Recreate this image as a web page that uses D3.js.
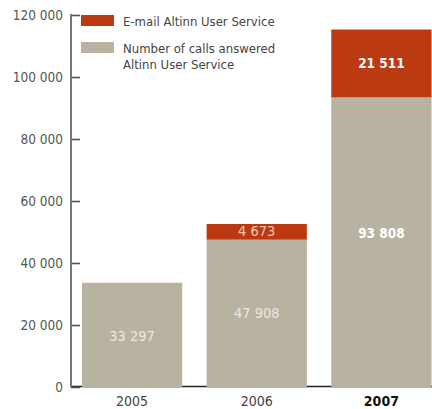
<!DOCTYPE html>
<html>
<head>
<meta charset="utf-8">
<script src="https://cdn.jsdelivr.net/npm/d3@7"></script>
<style>
  html, body { margin: 0; padding: 0; background: #fff; }
  svg { display: block; font-family: "DejaVu Sans Condensed", "Liberation Sans", sans-serif; }
</style>
</head>
<body>
<svg id="chart" width="432" height="409"></svg>
<script>
// Altinn User Service: calls answered and e-mails handled per year
const years = ["2005", "2006", "2007"];
const callsAnswered = [33297, 47908, 93808];
const emailsHandled = [0, 4673, 21511];
const yTicks = [0, 20000, 40000, 60000, 80000, 100000, 120000];
const seriesNames = ["E-mail Altinn User Service", "Number of calls answered\nAltinn User Service"];
const highlightYear = "2007";

const colors = { calls: "#b8b2a1", email: "#bb3a12", edge: "#c9ae73" };

const svg = d3.select("#chart");
const margin = { left: 70, right: 1, top: 15, bottom: 22 };
const W = 432, H = 409;

const x = d3.scaleBand()
  .domain(years)
  .range([margin.left + 12, W - margin.right + 0.5])
  .paddingInner(0.196)
  .paddingOuter(0);

const y = d3.scaleLinear()
  .domain([0, 120000])
  .range([H - margin.bottom, margin.top]);

const fmt = v => d3.format(",")(v).replace(/,/g, " ");

// bottom baseline
svg.append("line")
  .attr("x1", margin.left).attr("x2", W)
  .attr("y1", y(0) - 0.5).attr("y2", y(0) - 0.5)
  .attr("stroke", "#222").attr("stroke-width", 1.5);

// y axis with inward ticks
const yAxis = d3.axisLeft(y).tickValues(yTicks).tickSize(-9).tickPadding(8).tickFormat(fmt);
const gy = svg.append("g").attr("transform", `translate(${margin.left + 1},0)`).call(yAxis);
gy.select(".domain").remove();
gy.selectAll(".tick line").attr("stroke", "#555").attr("stroke-width", 1.6);
gy.selectAll(".tick text")
  .attr("fill", "#555").attr("font-size", 13.5)
  .attr("font-family", "'DejaVu Sans Condensed', sans-serif");
svg.append("line")
  .attr("x1", margin.left + 1).attr("x2", margin.left + 1)
  .attr("y1", y(120000) - 1).attr("y2", y(0))
  .attr("stroke", "#777").attr("stroke-width", 2);

// stacked bars
const rows = years.map((yr, i) => ({ year: yr, calls: callsAnswered[i], email: emailsHandled[i] }));
const stack = d3.stack().keys(["calls", "email"])(rows);

const g = svg.append("g");
stack.forEach(layer => {
  g.selectAll(null).data(layer.filter(d => d[1] > d[0])).join("rect")
    .attr("x", d => x(d.data.year))
    .attr("width", x.bandwidth())
    .attr("y", d => y(d[1]))
    .attr("height", d => y(d[0]) - y(d[1]) + 1)
    .attr("fill", colors[layer.key]);
});

// thin top edge on bars without an e-mail segment
g.selectAll(null).data(rows.filter(d => d.email === 0)).join("rect")
  .attr("x", d => x(d.year))
  .attr("width", x.bandwidth())
  .attr("y", d => y(d.calls) - 1)
  .attr("height", 1.2)
  .attr("fill", colors.edge);

// value labels
const labels = [];
rows.forEach(d => {
  labels.push({ year: d.year, value: d.calls, mid: (y(0) + y(d.calls)) / 2, series: "calls" });
  if (d.email > 0) labels.push({ year: d.year, value: d.email, mid: (y(d.calls) + y(d.calls + d.email)) / 2, series: "email" });
});
svg.selectAll(null).data(labels).join("text")
  .attr("x", d => x(d.year) + x.bandwidth() / 2)
  .attr("y", d => d.year === highlightYear && d.series === "calls" ? d.mid - 8 : d.mid)
  .attr("dy", "0.36em")
  .attr("text-anchor", "middle")
  .attr("font-size", d => d.year === highlightYear ? 13.5 : 14.5)
  .attr("font-weight", d => d.year === highlightYear ? "bold" : "normal")
  .attr("fill", d => d.year === highlightYear ? "#ffffff" : (d.series === "email" ? "#f1cbbd" : "#ebe7df"))
  .text(d => fmt(d.value));

// x axis labels
svg.selectAll(null).data(years).join("text")
  .attr("x", d => x(d) + x.bandwidth() / 2)
  .attr("y", 406)
  .attr("text-anchor", "middle")
  .attr("font-size", 14)
  .attr("font-weight", d => d === highlightYear ? "bold" : "normal")
  .attr("fill", d => d === highlightYear ? "#111" : "#444")
  .text(d => d);

// legend
const legend = svg.append("g").attr("transform", "translate(81,15)");
const legItems = [
  { name: seriesNames[0], color: colors.email },
  { name: seriesNames[1], color: colors.calls }
];
legItems.forEach((it, i) => {
  const gi = legend.append("g").attr("transform", `translate(0,${i * 27})`);
  gi.append("rect").attr("width", 33).attr("height", 11).attr("fill", it.color);
  const t = gi.append("text").attr("x", 42).attr("y", 11)
    .attr("font-size", 13).attr("fill", "#444");
  it.name.split("\n").forEach((line, j) => {
    t.append("tspan").attr("x", 42).attr("dy", j === 0 ? 0 : 16).text(line);
  });
});
</script>
</body>
</html>
